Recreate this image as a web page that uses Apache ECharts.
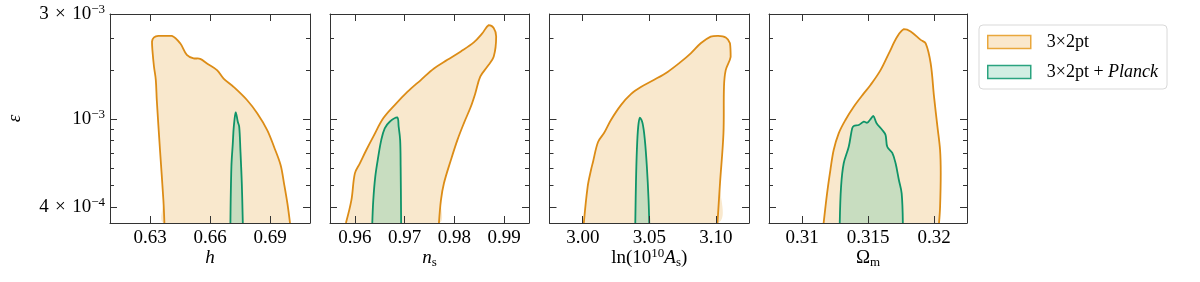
<!DOCTYPE html>
<html><head><meta charset="utf-8">
<script src="https://cdn.jsdelivr.net/npm/echarts@6/dist/echarts.min.js"></script>
<style>html,body{margin:0;padding:0;background:#fff}#c{width:1200px;height:282px}</style>
</head><body><div id="c"></div>
<script>
// ---- data ----
const axisNames = ['{it|h}', '{it|n}{sub|s}', 'ln(10{sup|10}{it|A}{sub|s})', 'Ω{sub|m}'];
const xMins = [0.61, 0.955, 2.975, 0.3075];
const xMaxs = [0.71, 0.995, 3.125, 0.3225];
const xTicks = [[0.63, 0.66, 0.69], [0.96, 0.97, 0.98, 0.99], [3.00, 3.05, 3.10], [0.31, 0.315, 0.32]];
const xTickLabels = [['0.63', '0.66', '0.69'], ['0.96', '0.97', '0.98', '0.99'], ['3.00', '3.05', '3.10'], ['0.31', '0.315', '0.32']];
const yMin = 3.39e-4, yMax = 3e-3;
const yTicks = [4e-4, 1e-3, 3e-3];
const yTickLabels = ['4\u2004×\u200410{sup|−4}', '10{sup|−3}', '3\u2004×\u200410{sup|−3}'];
const yMinorTicks = [5e-4, 6e-4, 7e-4, 8e-4, 9e-4, 1.66e-3, 2.34e-3];
const seriesNames = ['3×2pt', '3×2pt + Planck'];

const h_3x2pt = [[0.6372,3.39e-4],[0.6367,4.30e-4],[0.6350,7.26e-4],[0.6334,1.22e-3],[0.6329,1.51e-3],[0.6320,1.73e-3],[0.6312,2.06e-3],[0.6310,2.25e-3],[0.6320,2.35e-3],[0.6342,2.39e-3],[0.6409,2.39e-3],[0.6451,2.21e-3],[0.6484,1.96e-3],[0.6518,1.89e-3],[0.6551,1.88e-3],[0.6585,1.79e-3],[0.6635,1.67e-3],[0.6668,1.53e-3],[0.6719,1.40e-3],[0.6786,1.22e-3],[0.6836,1.065e-3],[0.6886,8.94e-4],[0.6920,7.51e-4],[0.6953,6.21e-4],[0.6970,5.13e-4],[0.6987,4.16e-4],[0.7000,3.39e-4]];
const h_planck = [[0.6702,3.39e-4],[0.6707,6.11e-4],[0.6714,7.78e-4],[0.6719,9.26e-4],[0.6729,1.076e-3],[0.6739,9.75e-4],[0.6746,9.26e-4],[0.6752,7.26e-4],[0.6759,5.13e-4],[0.6764,3.39e-4]];
const ns_3x2pt = [[0.9582,3.39e-4],[0.9593,4.30e-4],[0.9600,5.69e-4],[0.9610,6.32e-4],[0.9623,7.26e-4],[0.9637,8.35e-4],[0.9657,1.01e-3],[0.9680,1.16e-3],[0.9706,1.334e-3],[0.9733,1.51e-3],[0.9759,1.70e-3],[0.9786,1.86e-3],[0.9813,2.03e-3],[0.9839,2.23e-3],[0.9856,2.45e-3],[0.9869,2.67e-3],[0.9879,2.59e-3],[0.9884,2.37e-3],[0.9879,1.92e-3],[0.9866,1.73e-3],[0.9852,1.56e-3],[0.9842,1.31e-3],[0.9833,1.14e-3],[0.9819,9.59e-4],[0.9806,8.05e-4],[0.9793,6.54e-4],[0.9779,5.13e-4],[0.9773,4.30e-4],[0.9769,3.39e-4]];
const ns_planck = [[0.9635,3.39e-4],[0.9637,4.30e-4],[0.9641,5.50e-4],[0.9647,6.77e-4],[0.9653,8.05e-4],[0.9660,9.10e-4],[0.9670,9.75e-4],[0.9685,1.021e-3],[0.9688,9.26e-4],[0.9691,8.05e-4],[0.9692,6.11e-4],[0.9693,3.39e-4]];
const As_3x2pt = [[3.0008,3.39e-4],[3.0037,4.96e-4],[3.0062,5.89e-4],[3.0077,6.41e-4],[3.0115,7.89e-4],[3.0160,8.67e-4],[3.0212,9.93e-4],[3.0287,1.16e-3],[3.0362,1.30e-3],[3.0437,1.40e-3],[3.0537,1.51e-3],[3.0638,1.64e-3],[3.0737,1.82e-3],[3.0812,1.99e-3],[3.0887,2.21e-3],[3.0962,2.37e-3],[3.1013,2.39e-3],[3.1075,2.35e-3],[3.1107,2.21e-3],[3.1112,1.92e-3],[3.1075,1.67e-3],[3.1062,1.41e-3],[3.1058,8.64e-4],[3.1032,5.13e-4],[3.1013,3.39e-4]];
const As_planck = [[3.0395,3.39e-4],[3.0400,5.13e-4],[3.0407,7.26e-4],[3.0417,9.26e-4],[3.0430,1.017e-3],[3.0450,9.59e-4],[3.0467,8.05e-4],[3.0482,6.11e-4],[3.0495,4.30e-4],[3.0500,3.39e-4]];
const Om_3x2pt = [[0.31164,3.39e-4],[0.31190,4.62e-4],[0.31215,5.89e-4],[0.31240,7.26e-4],[0.31278,8.64e-4],[0.31329,9.93e-4],[0.31392,1.14e-3],[0.31468,1.31e-3],[0.31519,1.43e-3],[0.31595,1.67e-3],[0.31658,1.99e-3],[0.31722,2.37e-3],[0.31772,2.56e-3],[0.31823,2.50e-3],[0.31899,2.29e-3],[0.31937,2.21e-3],[0.31975,1.79e-3],[0.32000,1.27e-3],[0.32026,9.26e-4],[0.32046,7.26e-4],[0.32051,5.69e-4],[0.32046,4.01e-4],[0.32038,3.39e-4]];
const Om_planck = [[0.31286,3.39e-4],[0.31296,4.96e-4],[0.31316,6.32e-4],[0.31354,7.51e-4],[0.31380,9.10e-4],[0.31392,9.33e-4],[0.31430,9.42e-4],[0.31468,9.75e-4],[0.31494,9.65e-4],[0.31514,9.93e-4],[0.31540,1.035e-3],[0.31565,9.59e-4],[0.31608,8.94e-4],[0.31633,8.49e-4],[0.31646,7.51e-4],[0.31684,7.04e-4],[0.31709,6.32e-4],[0.31734,5.31e-4],[0.31755,4.62e-4],[0.31764,3.39e-4]];

const contours3x2 = [h_3x2pt, ns_3x2pt, As_3x2pt, Om_3x2pt];
const contoursPlanck = [h_planck, ns_planck, As_planck, Om_planck];

// ---- styling / layout ----
const F = '"Liberation Serif", "DejaVu Serif", serif';
const FS = 19;
const AX = '#333';
const orange = {line: '#DC8C16', fill: '#F9E8CD'};
const green = {line: '#0F9468', fill: '#C8DDC0'};
const gridBoxes = [[110, 200], [330, 199], [549.5, 199.5], [769, 198]];
const rich = {
  it: {fontFamily: F, fontSize: FS, fontStyle: 'italic', lineHeight: 22, color: '#000'},
  sub: {fontFamily: F, fontSize: 13, lineHeight: 12, verticalAlign: 'bottom', color: '#000'},
  sup: {fontFamily: F, fontSize: 13, lineHeight: 12, verticalAlign: 'top', color: '#000'}
};

function closeIdx(arr, v) {
  for (let i = 0; i < arr.length; i++) if (Math.abs(v / arr[i] - 1) < 1e-6) return i;
  return -1;
}

const grid = [], xAxis = [], yAxis = [], series = [];
for (let i = 0; i < 4; i++) {
  grid.push({left: gridBoxes[i][0], width: gridBoxes[i][1], top: 14, height: 209});
  const lineCfg = {show: true, onZero: false, lineStyle: {color: AX, width: 1}};
  const xt = xTicks[i], xl = xTickLabels[i];
  xAxis.push({
    gridIndex: i, type: 'value', min: xMins[i], max: xMaxs[i], position: 'bottom', z: 10,
    axisLine: lineCfg,
    axisTick: {show: true, inside: true, length: 7, customValues: xt, lineStyle: {color: AX}},
    axisLabel: {customValues: xt, margin: 6, fontFamily: F, fontSize: FS, color: '#000',
      formatter: v => { const k = closeIdx(xt, v); return k >= 0 ? xl[k] : ''; }},
    splitLine: {show: false},
    name: axisNames[i], nameLocation: 'middle', nameGap: 24, nameMoveOverlap: false,
    nameTextStyle: {fontFamily: F, fontSize: FS, lineHeight: 22, color: '#000', rich: rich}
  });
  xAxis.push({
    gridIndex: i, type: 'value', min: xMins[i], max: xMaxs[i], position: 'top', z: 10,
    axisLine: lineCfg,
    axisTick: {show: true, inside: true, length: 7, customValues: xt, lineStyle: {color: AX}},
    axisLabel: {show: false}, splitLine: {show: false}
  });
  const yBase = {gridIndex: i, type: 'log', logBase: 10, min: yMin, max: yMax, z: 10, splitLine: {show: false}};
  yAxis.push(Object.assign({}, yBase, {
    position: 'left', axisLine: lineCfg,
    axisTick: {show: true, inside: true, length: 7, customValues: yTicks, lineStyle: {color: AX}},
    axisLabel: i === 0 ? {customValues: yTicks, margin: 5, fontFamily: F, fontSize: FS, lineHeight: 22, color: '#000', rich: rich,
      formatter: v => { const k = closeIdx(yTicks, v); return k >= 0 ? yTickLabels[k] : ''; }} : {show: false},
    name: i === 0 ? 'ε' : '', nameLocation: 'middle', nameGap: 86, nameMoveOverlap: false,
    nameTextStyle: {fontFamily: F, fontSize: FS, fontStyle: 'italic', color: '#000'}
  }));
  yAxis.push(Object.assign({}, yBase, {
    position: 'left', axisLine: {show: false},
    axisTick: {show: true, inside: true, length: 4, customValues: yMinorTicks, lineStyle: {color: AX}},
    axisLabel: {show: false}
  }));
  yAxis.push(Object.assign({}, yBase, {
    position: 'right', axisLine: lineCfg,
    axisTick: {show: true, inside: true, length: 7, customValues: yTicks, lineStyle: {color: AX}},
    axisLabel: {show: false}
  }));
  yAxis.push(Object.assign({}, yBase, {
    position: 'right', axisLine: {show: false},
    axisTick: {show: true, inside: true, length: 4, customValues: yMinorTicks, lineStyle: {color: AX}},
    axisLabel: {show: false}
  }));
  [[contours3x2[i], orange, seriesNames[0]], [contoursPlanck[i], green, seriesNames[1]]].forEach(([pts, col, nm], j) => {
    series.push({
      type: 'custom', name: nm, xAxisIndex: 2 * i, yAxisIndex: 4 * i, silent: true, z: 2 + j,
      itemStyle: {color: col.fill},
      encode: {x: 0, y: 1},
      data: pts,
      renderItem: (params, api) => {
        if (params.dataIndex !== 0) return null;
        const p = pts.map(d => api.coord(d));
        const xs = p.map(q => q[0]), ys = p.map(q => q[1]);
        const cons = [[Math.min(...xs), Math.min(...ys)], [Math.max(...xs), Math.max(...ys)]];
        return {type: 'group', children: [
          {type: 'polygon', shape: {points: p, smooth: 0.35, smoothConstraint: cons}, style: {fill: col.fill, stroke: null}},
          {type: 'polyline', shape: {points: p, smooth: 0.35, smoothConstraint: cons}, style: {fill: null, stroke: col.line, lineWidth: 1.8, lineJoin: 'round'}}
        ]};
      }
    });
  });
}

const chart = echarts.init(document.getElementById('c'), null, {renderer: 'canvas'});
chart.setOption({
  animation: false,
  backgroundColor: '#fff',
  grid, xAxis, yAxis, series,
  legend: {
    orient: 'vertical', left: 979, top: 25, padding: [8, 9, 8, 8], itemGap: 12,
    itemWidth: 43, itemHeight: 13, selectedMode: false,
    backgroundColor: '#fff', borderColor: '#d9d9d9', borderWidth: 1, borderRadius: 4,
    data: [
      {name: seriesNames[0], icon: 'rect', itemStyle: {color: '#FAE8CD', borderColor: '#E9A73C', borderWidth: 1.5}},
      {name: seriesNames[1], icon: 'rect', itemStyle: {color: '#D2EEE3', borderColor: '#2AA37F', borderWidth: 1.5}}
    ],
    formatter: n => n === seriesNames[1] ? '3×2pt + {it|Planck}' : n,
    textStyle: {fontFamily: F, fontSize: 18, lineHeight: 18, color: '#000', padding: [0, 0, 0, 11],
      rich: {it: {fontFamily: F, fontSize: 18, fontStyle: 'italic', color: '#000'}}}
  }
});
</script></body></html>
